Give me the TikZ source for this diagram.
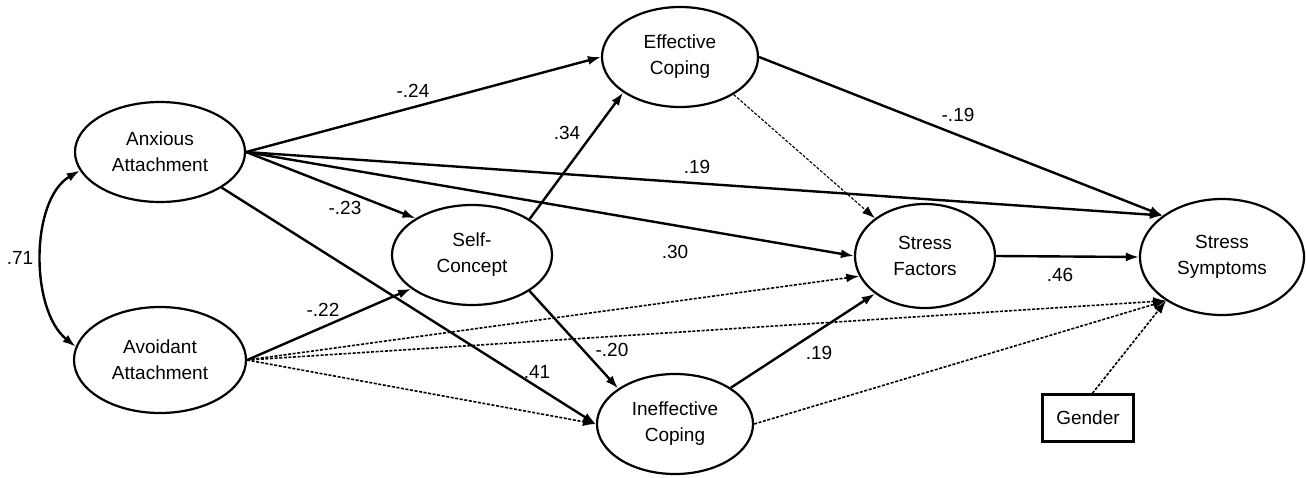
\documentclass[tikz,border=0pt]{standalone}
\usepackage{fontspec}
\setmainfont{Liberation Sans}
\usetikzlibrary{arrows.meta,shapes.geometric}
\begin{document}
\begin{tikzpicture}[x=1pt,y=-1pt,
  every node/.style={font=\fontsize{19}{26}\selectfont},
  latent/.style={ellipse, draw, line width=2.2pt, inner sep=0pt, align=center},
  obs/.style={rectangle, draw, line width=2.2pt, minimum width=91pt, minimum height=47pt, inner sep=0pt},
  spath/.style={line width=2.4pt, -{Latex[length=13pt,width=9pt]}},
  npath/.style={line width=1.6pt, dash pattern=on 3pt off 1.6pt, -{Latex[length=13pt,width=9pt]}},
  tpath/.style={line width=1.1pt, dash pattern=on 3pt off 1.6pt, -{Latex[length=13pt,width=9pt]}},
  coef/.style={inner sep=0pt}]
\useasboundingbox (0,0) rectangle (1306,477);

% nodes
\node[latent, minimum width=170pt, minimum height=100pt] (anx) at (160,152) {Anxious\\Attachment};
\node[latent, minimum width=172pt, minimum height=106pt] (avo) at (160,360) {Avoidant\\Attachment};
\node[latent, minimum width=160pt, minimum height=100pt] (self) at (472,255) {Self-\\Concept};
\node[latent, minimum width=156pt, minimum height=100pt] (eff) at (680,57) {Effective\\Coping};
\node[latent, minimum width=156pt, minimum height=100pt] (ineff) at (675,424) {Ineffective\\Coping};
\node[latent, minimum width=140pt, minimum height=104pt] (sf) at (925,256) {Stress\\Factors};
\node[latent, minimum width=164pt, minimum height=116pt] (ss) at (1222,257) {Stress\\Symptoms};
\node[obs] (gender) at (1088,418) {Gender};

% correlation
\draw[line width=2.4pt, {Latex[length=13pt,width=9pt]}-{Latex[length=13pt,width=9pt]}]
  (anx.193) .. controls (30,200) and (30,310) .. (avo.171);

% solid paths
\draw[spath] (anx.east) -- (eff.west);
\draw[spath] (anx.east) -- (self.147);
\draw[spath] (anx.east) -- (sf.west);
\draw[spath] (anx.east) -- (ss.145);
\draw[spath] (anx.-30) -- (ineff.west);
\draw[spath] (avo.east) -- (self.209);
\draw[spath] (self.32) -- (eff.212);
\draw[spath] (self.-32) -- (ineff.148);
\draw[spath] (eff.east) -- (ss.145);
\draw[spath] (ineff.33) -- (sf.217);
\draw[spath] (sf.east) -- (ss.west);

% dashed paths
\draw[npath] (avo.east) -- (sf.197);
\draw[npath] (avo.east) -- (ss.218);
\draw[npath] (avo.east) -- (ineff.west);
\draw[npath] (ineff.east) -- (ss.218);
\draw[npath] (gender.80) -- (ss.218);
\draw[tpath] (eff.-35) -- (sf.143);

% coefficients
\node[coef] (c1) at (20,258) {.71};
\node[coef] (c2) at (413,91) {-.24};
\node[coef] (c3) at (345,208) {-.23};
\node[coef] (c4) at (567,133) {.34};
\node[coef] (c5) at (697,167) {.19};
\node[coef] (c6) at (675,252) {.30};
\node[coef] (c7) at (958,115) {-.19};
\node[coef] (c8) at (323,310) {-.22};
\node[coef] (c9) at (612,350) {-.20};
\node[coef] (c10) at (537,372) {.41};
\node[coef] (c11) at (819,353) {.19};
\node[coef] (c12) at (1060,275) {.46};
\end{tikzpicture}
\end{document}
